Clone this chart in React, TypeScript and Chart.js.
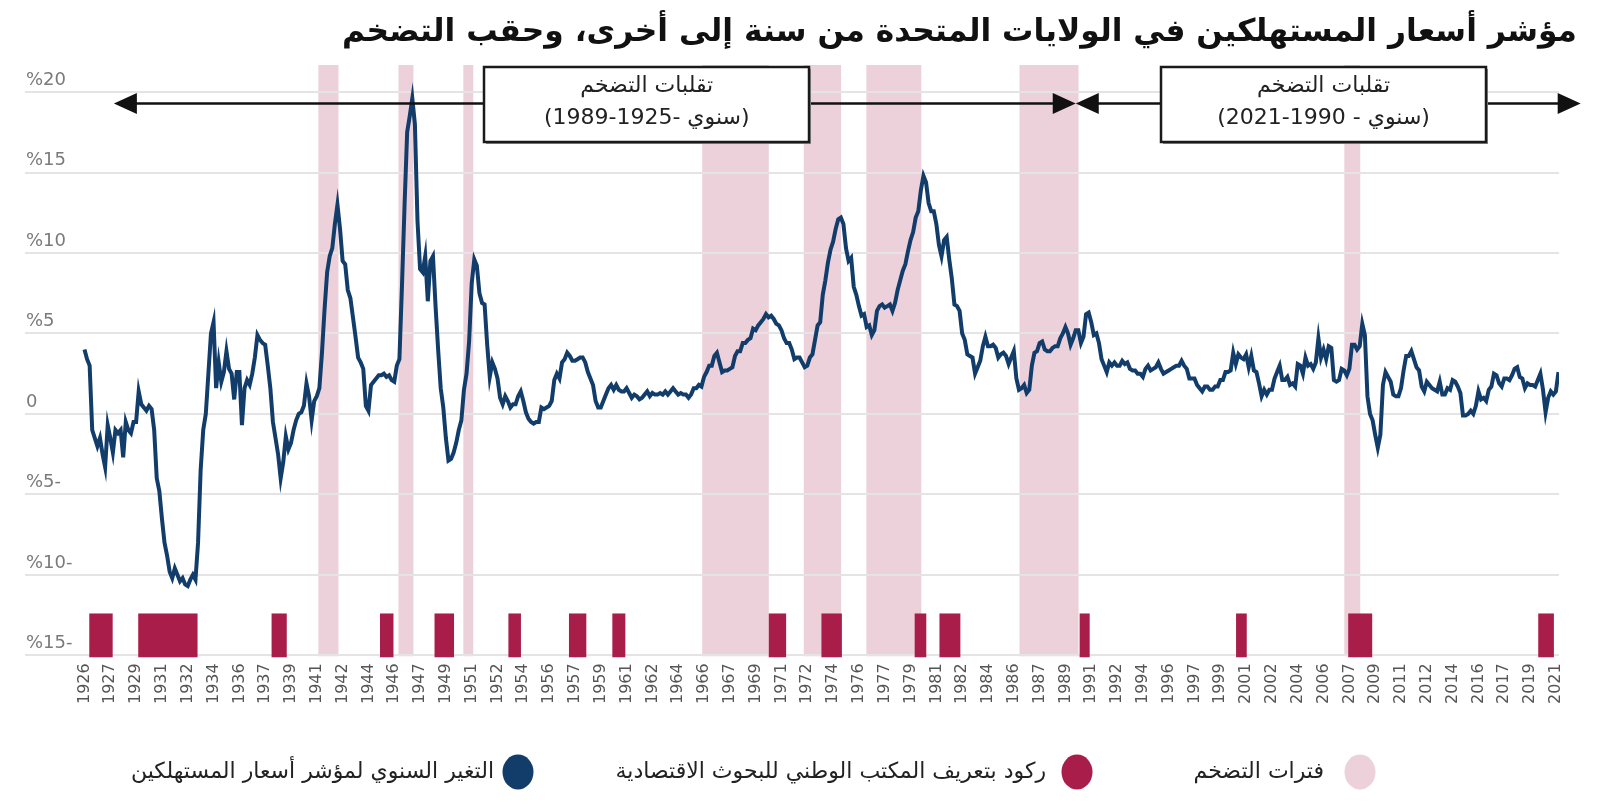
import React, { useEffect, useRef } from "react";
import { Chart, registerables } from "chart.js";

Chart.register(...registerables);

// ---------------- data ----------------
const FIRST_YEAR = 1926;
// sampled months within each year (Jan, Mar, May, Jul, Sep, Nov)
const SAMPLE_MONTHS = [1, 3, 5, 7, 9, 11];
// US CPI, year-over-year change (%), one row per year from 1926
const cpiYoY: number[][] = [
  [4.0, 3.4, 3.0, -1.0, -1.5, -2.0], // 1926
  [-1.5, -2.5, -3.3, -0.7, -1.5, -2.4],
  [-1.0, -1.2, -1.0, -2.7, -0.5, -1.0],
  [-1.2, -0.5, -0.5, 1.4, 0.6, 0.4],
  [0.2, 0.5, 0.3, -1.0, -4.0, -4.8], // 1930
  [-6.5, -8.0, -8.8, -9.8, -10.2, -9.6],
  [-10.0, -10.4, -10.2, -10.6, -10.7, -10.3],
  [-10.0, -10.3, -8.0, -3.5, -1.0, 0.0],
  [2.5, 5.0, 5.7, 1.6, 3.2, 2.0],
  [2.6, 3.9, 2.8, 2.5, 0.9, 2.6],
  [2.6, -0.7, 1.6, 2.1, 1.8, 2.5],
  [3.5, 4.9, 4.6, 4.4, 4.3, 3.0],
  [1.6, -0.5, -1.5, -2.5, -4.0, -3.0],
  [-1.4, -2.2, -1.8, -1.0, -0.4, 0.0],
  [0.1, 0.5, 1.9, 1.1, -0.4, 0.8], // 1940
  [1.1, 1.6, 3.8, 6.5, 8.8, 9.8],
  [10.3, 11.8, 13.0, 11.5, 9.5, 9.3],
  [7.7, 7.2, 6.0, 4.8, 3.5, 3.2],
  [2.8, 0.5, 0.2, 1.8, 2.0, 2.2],
  [2.4, 2.4, 2.5, 2.3, 2.4, 2.1],
  [2.0, 3.0, 3.4, 8.0, 13.0, 17.5],
  [18.5, 19.6, 18.0, 12.0, 9.0, 8.8],
  [9.8, 7.0, 9.5, 9.8, 6.7, 4.0],
  [1.6, 0.4, -1.5, -2.9, -2.8, -2.4],
  [-1.8, -1.0, -0.4, 1.5, 2.5, 4.5], // 1950
  [8.1, 9.6, 9.2, 7.5, 6.9, 6.8],
  [4.3, 2.3, 3.2, 2.8, 2.2, 1.0],
  [0.6, 1.1, 0.8, 0.4, 0.6, 0.6],
  [1.1, 1.4, 0.8, 0.1, -0.3, -0.5],
  [-0.6, -0.5, -0.5, 0.4, 0.3, 0.4],
  [0.5, 0.8, 2.1, 2.5, 2.2, 3.2],
  [3.4, 3.8, 3.6, 3.3, 3.3, 3.4],
  [3.5, 3.5, 3.2, 2.6, 2.2, 1.8],
  [0.8, 0.4, 0.4, 0.8, 1.2, 1.6],
  [1.8, 1.5, 1.8, 1.5, 1.4, 1.4], // 1960
  [1.6, 1.3, 1.0, 1.2, 1.1, 0.9],
  [1.0, 1.2, 1.4, 1.1, 1.3, 1.2],
  [1.2, 1.3, 1.2, 1.4, 1.2, 1.4],
  [1.6, 1.4, 1.2, 1.3, 1.2, 1.2],
  [1.0, 1.2, 1.6, 1.6, 1.8, 1.7],
  [2.3, 2.6, 3.0, 3.0, 3.6, 3.8],
  [3.2, 2.6, 2.7, 2.7, 2.8, 2.9],
  [3.6, 3.9, 3.9, 4.4, 4.4, 4.6],
  [4.7, 5.3, 5.2, 5.5, 5.7, 5.9],
  [6.2, 6.0, 6.1, 5.9, 5.6, 5.5], // 1970
  [5.2, 4.7, 4.4, 4.4, 4.0, 3.4],
  [3.5, 3.5, 3.2, 2.9, 3.0, 3.5],
  [3.7, 4.6, 5.5, 5.7, 7.4, 8.3],
  [9.4, 10.2, 10.7, 11.5, 12.1, 12.2],
  [11.8, 10.3, 9.5, 9.7, 7.9, 7.4],
  [6.7, 6.1, 6.2, 5.4, 5.5, 4.9],
  [5.2, 6.4, 6.7, 6.8, 6.6, 6.7],
  [6.8, 6.4, 6.9, 7.7, 8.3, 8.9],
  [9.3, 10.1, 10.8, 11.3, 12.2, 12.6],
  [13.9, 14.8, 14.4, 13.1, 12.6, 12.6], // 1980
  [11.8, 10.5, 9.8, 10.8, 11.0, 9.6],
  [8.4, 6.8, 6.7, 6.4, 5.0, 4.6],
  [3.7, 3.6, 3.5, 2.5, 2.9, 3.3],
  [4.2, 4.8, 4.2, 4.2, 4.3, 4.1],
  [3.5, 3.7, 3.8, 3.6, 3.1, 3.5],
  [3.9, 2.2, 1.5, 1.6, 1.8, 1.3],
  [1.5, 3.0, 3.8, 3.9, 4.4, 4.5],
  [4.0, 3.9, 3.9, 4.1, 4.2, 4.2],
  [4.7, 5.0, 5.4, 5.0, 4.3, 4.7],
  [5.2, 5.2, 4.4, 4.8, 6.2, 6.3], // 1990
  [5.7, 4.9, 5.0, 4.4, 3.4, 3.0],
  [2.6, 3.2, 3.0, 3.2, 3.0, 3.0],
  [3.3, 3.1, 3.2, 2.8, 2.7, 2.7],
  [2.5, 2.5, 2.3, 2.8, 3.0, 2.7],
  [2.8, 2.9, 3.2, 2.8, 2.5, 2.6],
  [2.7, 2.8, 2.9, 3.0, 3.0, 3.3],
  [3.0, 2.8, 2.2, 2.2, 2.2, 1.8],
  [1.6, 1.4, 1.7, 1.7, 1.5, 1.5],
  [1.7, 1.7, 2.1, 2.1, 2.6, 2.6],
  [2.7, 3.8, 3.1, 3.7, 3.5, 3.4], // 2000
  [3.7, 2.9, 3.6, 2.7, 2.6, 1.9],
  [1.1, 1.5, 1.2, 1.5, 1.5, 2.2],
  [2.6, 3.0, 2.1, 2.1, 2.3, 1.8],
  [1.9, 1.7, 3.1, 3.0, 2.5, 3.5],
  [3.0, 3.1, 2.8, 3.2, 4.7, 3.5],
  [4.0, 3.4, 4.2, 4.1, 2.1, 2.0],
  [2.1, 2.8, 2.7, 2.4, 2.8, 4.3],
  [4.3, 4.0, 4.2, 5.6, 4.9, 1.1],
  [0.0, -0.4, -1.3, -2.1, -1.3, 1.8],
  [2.6, 2.3, 2.0, 1.2, 1.1, 1.1], // 2010
  [1.6, 2.7, 3.6, 3.6, 3.9, 3.4],
  [2.9, 2.7, 1.7, 1.4, 2.0, 1.8],
  [1.6, 1.5, 1.4, 2.0, 1.2, 1.2],
  [1.6, 1.5, 2.1, 2.0, 1.7, 1.3],
  [-0.1, -0.1, 0.0, 0.2, 0.0, 0.5],
  [1.4, 0.9, 1.0, 0.8, 1.5, 1.7],
  [2.5, 2.4, 1.9, 1.7, 2.2, 2.2],
  [2.1, 2.4, 2.8, 2.9, 2.3, 2.2],
  [1.6, 1.9, 1.8, 1.8, 1.7, 2.1],
  [2.5, 1.5, 0.1, 1.0, 1.4, 1.2], // 2020
  [1.4, 2.6], // 2021
];

// NBER recessions (start year, end year) as drawn
const recessions: [number, number][] = [
  [1926.31, 1927.82], [1929.47, 1933.3], [1938.08, 1939.06], [1945.08, 1945.95],
  [1948.6, 1949.86], [1953.37, 1954.18], [1957.28, 1958.4], [1960.08, 1960.92],
  [1970.18, 1971.3], [1973.58, 1974.9], [1979.6, 1980.35], [1981.2, 1982.55],
  [1990.25, 1990.9], [2000.35, 2001.04], [2007.59, 2009.14], [2019.86, 2020.87],
];

// inflation periods (start year, end year)
const inflationPeriods: [number, number][] = [
  [1941.1, 1942.4], [1946.27, 1947.24], [1950.46, 1951.1], [1965.88, 1970.18],
  [1972.44, 1974.85], [1976.48, 1980.03], [1986.37, 1990.18], [2007.34, 2008.37],
];

const yTickValues = [-15, -10, -5, 0, 5, 10, 15, 20];
const yTickLabels = ["%15-", "%10-", "%5-", "0", "%5", "%10", "%15", "%20"];

const xTickLabels = [
  "1926", "1927", "1929", "1931", "1932", "1934", "1936", "1937", "1939", "1941",
  "1942", "1944", "1946", "1947", "1949", "1951", "1952", "1954", "1956", "1957",
  "1959", "1961", "1962", "1964", "1966", "1967", "1969", "1971", "1972", "1974",
  "1976", "1977", "1979", "1981", "1982", "1984", "1986", "1987", "1989", "1991",
  "1992", "1994", "1996", "1997", "1999", "2001", "2002", "2004", "2006", "2007",
  "2009", "2011", "2012", "2014", "2016", "2017", "2019", "2021",
];
const X_TICK_STEP_MONTHS = 20;

const TITLE = "مؤشر أسعار المستهلكين في الولايات المتحدة من سنة إلى أخرى، وحقب التضخم";

const eraArrows: [number, number][] = [[1927.9, 1990.0], [1990.0, 2022.6]];
const ARROW_LEVEL = 19.3;
// second lines are written in display order
const eraBoxes = [
  { center: 1962.3, lines: ["تقلبات التضخم", "(1989-1925- سنوي)"] },
  { center: 2006.0, lines: ["تقلبات التضخم", "(2021-1990 - سنوي)"] },
];

const RECESSION_TOP = -12.4;

// ---------------- styles ----------------
const NAVY = "#123d6b";
const CRIMSON = "#a91d4b";
const PINK = "#ecd1db";
const ARABIC_FONT = '"DejaVu Sans", "Noto Sans", sans-serif';

const legendItems = [
  { label: "فترات التضخم", color: PINK, cx: 1360, textRight: 1324 },
  { label: "ركود بتعريف المكتب الوطني للبحوث الاقتصادية", color: CRIMSON, cx: 1077, textRight: 1046 },
  { label: "التغير السنوي لمؤشر أسعار المستهلكين", color: NAVY, cx: 518, textRight: 494 },
];

const cpiPoints: { x: number; y: number }[] = [];
cpiYoY.forEach((row, i) =>
  row.forEach((v, j) => cpiPoints.push({ x: FIRST_YEAR + i + (SAMPLE_MONTHS[j] - 1) / 12, y: v }))
);

const decorPlugin = {
  id: "decor",
  beforeDraw(chart: any) {
    const { ctx, chartArea: a, scales } = chart;
    const x = scales.x;
    ctx.save();
    ctx.fillStyle = PINK;
    for (const [s, e] of inflationPeriods) {
      const x0 = x.getPixelForValue(s);
      const x1 = x.getPixelForValue(e);
      ctx.fillRect(x0, a.top, x1 - x0, a.bottom - a.top);
    }
    ctx.restore();
  },
  beforeDatasetsDraw(chart: any) {
    const { ctx, chartArea: a, scales } = chart;
    const { x, y } = scales;
    ctx.save();
    ctx.fillStyle = CRIMSON;
    const top = y.getPixelForValue(RECESSION_TOP);
    for (const [s, e] of recessions) {
      const x0 = x.getPixelForValue(s);
      const x1 = x.getPixelForValue(e);
      ctx.fillRect(x0, top, x1 - x0, a.bottom + 1 - top);
    }
    ctx.restore();
  },
  afterDraw(chart: any) {
    const { ctx, scales } = chart;
    const { x, y } = scales;
    ctx.save();

    // arrows
    const ay = Math.round(y.getPixelForValue(ARROW_LEVEL)) + 0.5;
    const head = (tip: number, dir: number) => {
      ctx.beginPath();
      ctx.moveTo(tip, ay);
      ctx.lineTo(tip - dir * 23, ay - 10.5);
      ctx.lineTo(tip - dir * 23, ay + 10.5);
      ctx.closePath();
      ctx.fill();
    };
    ctx.strokeStyle = "#111";
    ctx.fillStyle = "#111";
    ctx.lineWidth = 2.5;
    for (const [a, b] of eraArrows) {
      const xa = x.getPixelForValue(a);
      const xb = x.getPixelForValue(b);
      ctx.beginPath();
      ctx.moveTo(xa + 10, ay);
      ctx.lineTo(xb - 10, ay);
      ctx.stroke();
      head(xa, -1);
      head(xb, 1);
    }

    // boxes
    const BW = 325;
    const BH = 75;
    const BT = 67;
    for (const box of eraBoxes) {
      const cx = x.getPixelForValue(box.center);
      const left = Math.round(cx - BW / 2);
      ctx.fillStyle = "#8f8f8f";
      ctx.fillRect(left + 2, BT + 2, BW, BH);
      ctx.fillStyle = "#ffffff";
      ctx.fillRect(left, BT, BW, BH);
      ctx.strokeStyle = "#1a1a1a";
      ctx.lineWidth = 2.5;
      ctx.strokeRect(left, BT, BW, BH);
      ctx.fillStyle = "#222";
      ctx.font = `22px ${ARABIC_FONT}`;
      ctx.textAlign = "center";
      ctx.textBaseline = "middle";
      ctx.direction = "rtl";
      ctx.fillText(box.lines[0], cx, BT + 19);
      ctx.direction = "ltr";
      ctx.fillText(box.lines[1], cx, BT + 51);
    }

    // title
    ctx.direction = "rtl";
    ctx.textAlign = "right";
    ctx.textBaseline = "middle";
    ctx.fillStyle = "#111";
    ctx.font = `bold 31.3px ${ARABIC_FONT}`;
    ctx.fillText(TITLE, 1577, 33);

    // legend
    const ly = 772;
    for (const item of legendItems) {
      ctx.fillStyle = item.color;
      ctx.beginPath();
      ctx.ellipse(item.cx, ly, 15.5, 17.5, 0, 0, Math.PI * 2);
      ctx.fill();
      ctx.fillStyle = "#222";
      ctx.font = `22px ${ARABIC_FONT}`;
      ctx.direction = "rtl";
      ctx.textAlign = "right";
      ctx.textBaseline = "middle";
      ctx.fillText(item.label, item.textRight, ly);
    }
    ctx.restore();
  },
};

export default function App() {
  const ref = useRef<HTMLCanvasElement>(null);

  useEffect(() => {
    if (!ref.current) return;
    const chart = new Chart(ref.current, {
      type: "line",
      data: {
        datasets: [
          {
            data: cpiPoints,
            borderColor: NAVY,
            borderWidth: 4,
            pointRadius: 0,
            tension: 0,
            fill: false,
          },
        ],
      },
      options: {
        responsive: false,
        animation: false,
        parsing: false,
        layout: { padding: { top: 65, left: 23, right: 41, bottom: 99 } },
        plugins: {
          legend: { display: false },
          title: { display: false },
          tooltip: { enabled: false },
        },
        scales: {
          x: {
            type: "linear",
            min: 1922.16,
            max: 2021.2,
            grid: { display: false, drawTicks: false },
            border: { display: false },
            afterBuildTicks: (scale: any) => {
              scale.ticks = xTickLabels.map((_, k) => ({
                value: FIRST_YEAR + (k * X_TICK_STEP_MONTHS) / 12,
              }));
            },
            ticks: {
              autoSkip: false,
              minRotation: 90,
              maxRotation: 90,
              padding: 7,
              color: "#555",
              font: { family: "DejaVu Sans", size: 16 },
              callback: (_v: any, i: number) => xTickLabels[i],
            },
          },
          y: {
            min: -15.06,
            max: 21.68,
            afterBuildTicks: (scale: any) => {
              scale.ticks = yTickValues.map((v) => ({ value: v }));
            },
            grid: { color: "#e4e4e4", lineWidth: 2, drawTicks: false },
            border: { display: false },
            ticks: {
              mirror: true,
              padding: 1,
              labelOffset: -12,
              color: "#7a7a7a",
              font: { family: "DejaVu Sans", size: 18 },
              callback: (_v: any, i: number) => yTickLabels[i],
            },
          },
        },
      },
      plugins: [decorPlugin],
    });
    return () => chart.destroy();
  }, []);

  return (
    <div style={{ position: "absolute", left: 0, top: 0, width: 1600, height: 810, background: "#fff" }}>
      <canvas ref={ref} width={1600} height={810} style={{ display: "block" }} />
    </div>
  );
}
